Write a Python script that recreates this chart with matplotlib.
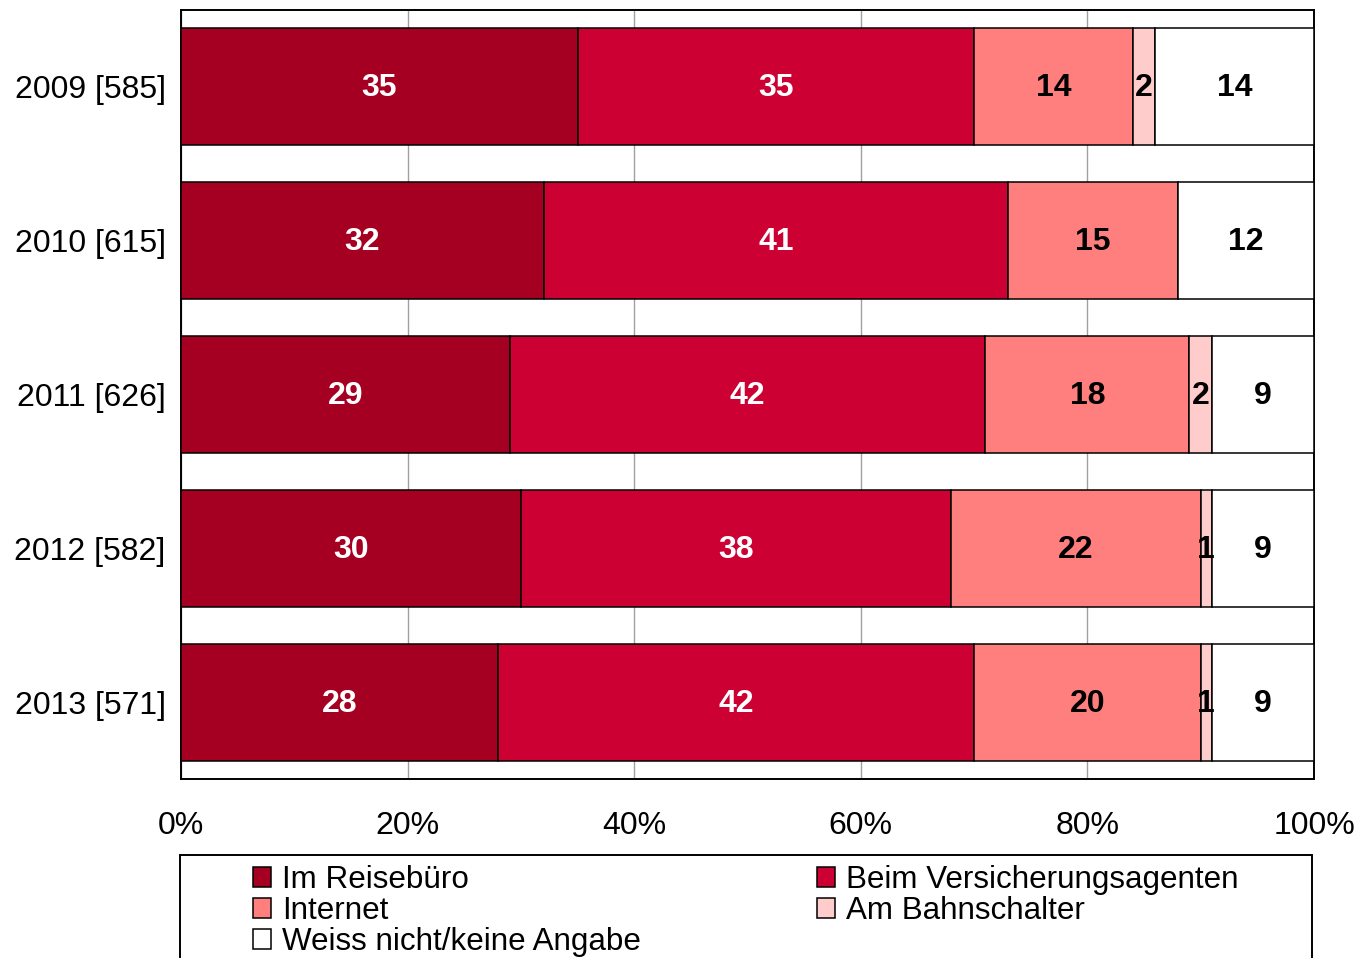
import numpy as np
import matplotlib
matplotlib.use("Agg")
import matplotlib.pyplot as plt
from matplotlib.patches import Patch, Rectangle

plt.rcParams["font.family"] = ["Liberation Sans", "DejaVu Sans"]

categories = ["2009 [585]", "2010 [615]", "2011 [626]", "2012 [582]", "2013 [571]"]
series_names = [
    "Im Reisebüro",
    "Beim Versicherungsagenten",
    "Internet",
    "Am Bahnschalter",
    "Weiss nicht/keine Angabe",
]
reisebuero = [35, 32, 29, 30, 28]
versicherung = [35, 41, 42, 38, 42]
internet = [14, 15, 18, 22, 20]
bahnschalter = [2, 0, 2, 1, 1]
weiss_nicht = [14, 12, 9, 9, 9]
x_ticks = [0, 20, 40, 60, 80, 100]

series = [reisebuero, versicherung, internet, bahnschalter, weiss_nicht]
colors = ["#A50021", "#CC0033", "#FF7F7F", "#FFCCCC", "#FFFFFF"]
label_colors = ["white", "white", "black", "black", "black"]

W, H = 1368, 958
fig = plt.figure(figsize=(W / 100, H / 100), dpi=100)
ax = fig.add_axes([181 / W, 1 - 779 / H, (1314 - 181) / W, (779 - 10) / H])

y = np.arange(len(categories))
left = np.zeros(len(categories))
for vals, col, lcol in zip(series, colors, label_colors):
    vals = np.array(vals, dtype=float)
    ax.barh(y, vals, left=left, height=0.76, color=col, edgecolor="black",
            linewidth=1.1, zorder=3)
    for yi, (l, v) in enumerate(zip(left, vals)):
        if v > 0:
            ax.text(l + v / 2, yi + 0.01, f"{int(v)}", ha="center", va="center",
                    color=lcol, fontsize=23, fontweight="bold", zorder=4)
    left += vals

ax.set_xlim(0, 100)
ax.set_ylim(len(categories) - 0.5, -0.5)
ax.set_yticks(y)
ax.set_yticklabels(categories, fontsize=23)
ax.set_xticks(x_ticks)
ax.set_xticklabels([f"{t}%" for t in x_ticks], fontsize=23)
ax.tick_params(axis="x", length=0, pad=23)
ax.tick_params(axis="y", length=0, pad=11)
ax.xaxis.grid(True, color="#A0A0A0", linewidth=1.0, zorder=0)
ax.set_axisbelow(True)
for sp in ax.spines.values():
    sp.set_linewidth(1.4)
    sp.set_color("black")

# legend frame (runs off the bottom of the figure)
fig.patches.append(Rectangle((180 / W, -0.05), (1312 - 180) / W, 0.05 + 1 - 855 / H,
                             transform=fig.transFigure, fill=False,
                             edgecolor="black", linewidth=1.4))

handles = [Patch(facecolor=c, edgecolor="black", linewidth=1.1) for c in colors]
order = [0, 2, 4, 1, 3]
fig.legend([handles[i] for i in order], [series_names[i] for i in order],
           loc="upper left", bbox_to_anchor=(253 / W, 1 - 865 / H), ncol=2,
           frameon=False, fontsize=22.6, handlelength=0.58, handleheight=0.58,
           handletextpad=0.35, labelspacing=0.03, columnspacing=5.6,
           borderpad=0, borderaxespad=0)

fig.savefig("out.png", dpi=100)
